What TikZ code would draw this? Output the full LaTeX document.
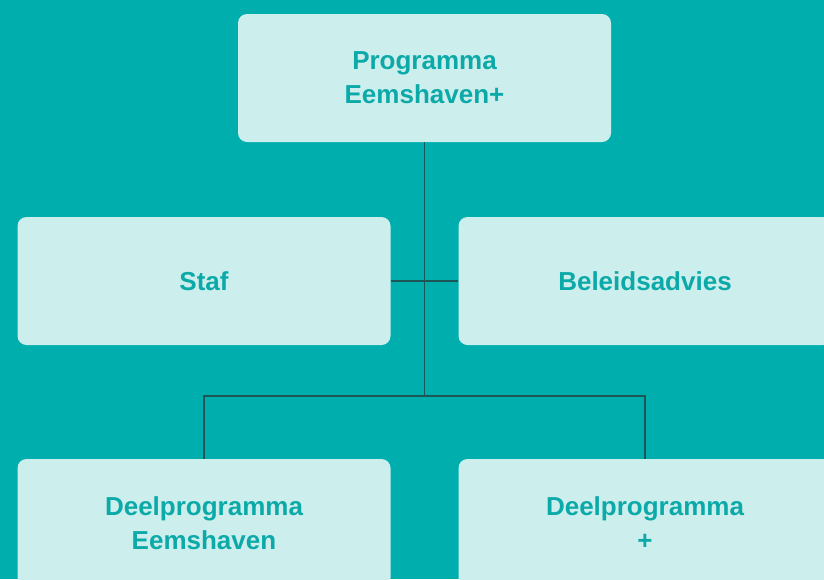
\documentclass[tikz,border=0pt]{standalone}
\usepackage{fontspec}
\setmainfont{Liberation Sans}
\definecolor{achtergrond}{HTML}{00AEAD}
\definecolor{vakvulling}{HTML}{CCEEED}
\definecolor{vaktekst}{HTML}{0BAAA8}
\definecolor{lijnkleur}{HTML}{1D5657}
\tikzset{
  vak/.style={fill=vakvulling, rounded corners=9pt, minimum width=373pt,
    minimum height=128pt, align=center, text=vaktekst,
    font=\fontsize{26}{34}\selectfont\bfseries, inner sep=0pt},
  lijn/.style={draw=lijnkleur, line width=1.4pt}
}
\begin{document}
\begin{tikzpicture}[x=1pt,y=-1pt]

            % Background and picture size
            \fill[achtergrond] (0,0) rectangle (824,579);
            \useasboundingbox (0,0) rectangle (824,579);
            \clip (0,0) rectangle (824,579);

            % Boxes of the chart
            \node[vak] (programma) at (424.5,78) {Programma\\Eemshaven+};
            \node[vak] (staf) at (204,281) {Staf};
            \node[vak] (beleid) at (645,281) {Beleidsadvies};
            \node[vak] (eemshaven) at (204,523) {Deelprogramma\\Eemshaven};
            \node[vak] (plus) at (645,523) {Deelprogramma\\+};

            % Branch point under the top box
            \coordinate (splitsing) at (programma.south |- 0,396);

            % Connectors
            \draw[lijn] (programma.south) -- (splitsing);
            \draw[lijn] (staf.east) -- (beleid.west);
            \foreach \doel in {eemshaven,plus}
                \draw[lijn] (splitsing) -| (\doel.north);

        \end{tikzpicture}
\end{document}
